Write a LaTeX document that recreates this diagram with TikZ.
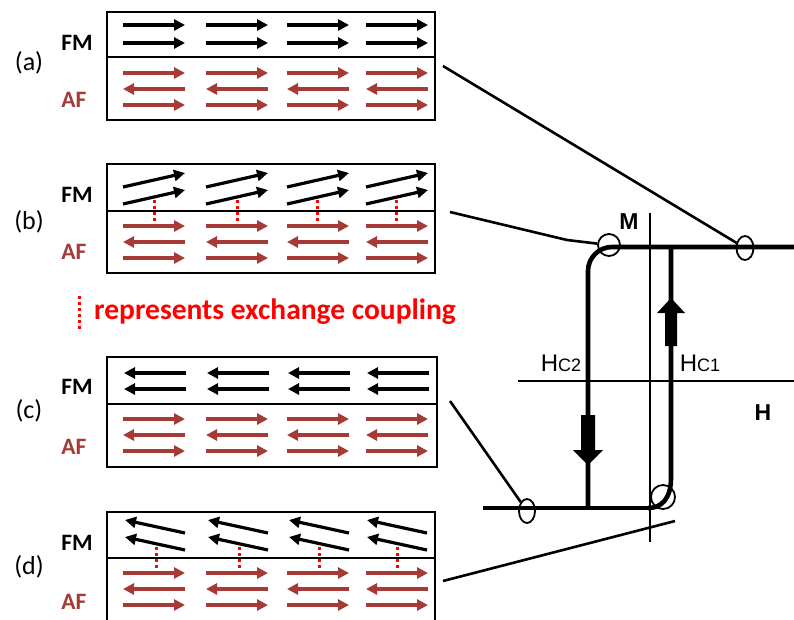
\documentclass[tikz,border=0pt]{standalone}
\usepackage{fontspec}
\setmainfont{Carlito}
\newfontfamily\arialfont{Liberation Sans}
\usetikzlibrary{arrows.meta,shapes.geometric}
\definecolor{afred}{RGB}{165,58,55}
\begin{document}
\begin{tikzpicture}[x=1pt,y=-1pt,
 spin/.style={line width=3.2pt,-{Triangle[length=11pt,width=11pt]}},
 fmspin/.style={spin,black},
 afspin/.style={spin,afred},
 panel/.style={line width=2.3pt},
 divider/.style={line width=1.8pt},
 coup/.style={red,line width=3pt,dash pattern=on 3pt off 3pt},
 hloop/.style={line width=4.6pt},
 haxis/.style={line width=2.4pt},
 lead/.style={line width=2.6pt},
 markc/.style={draw,ellipse,line width=1.8pt,inner sep=0pt},
 tag/.style={font=\fontsize{26}{28}\selectfont},
 fmlab/.style={font=\fontsize{23.5}{26}\selectfont\bfseries},
 aflab/.style={font=\fontsize{23.5}{26}\selectfont\bfseries,text=afred},
 axlab/.style={font=\arialfont\bfseries\fontsize{23}{26}\selectfont},
 hclab/.style={font=\arialfont\fontsize{24}{28}\selectfont,inner sep=0pt}
]
\useasboundingbox (0,0) rectangle (794,619);
\newcommand\afrows[1]{%
 \foreach \x in {123,206,287,366}{%
  \draw[afspin] (\x,#1) -- ++(62,0);
  \draw[afspin] (\x+62,#1+16) -- ++(-62,0);
  \draw[afspin] (\x,#1+32) -- ++(62,0);
 }}
% ---------- panel (a)
\draw[panel] (107,12) rectangle (435,120);
\draw[divider] (107,57) -- (435,57);
\foreach \x in {123,206,287,366}{
 \draw[fmspin] (\x,25) -- ++(62,0);
 \draw[fmspin] (\x,43) -- ++(62,0);
}
\afrows{73}
\node[tag] (ta) at (29,63) {(a)};
\node[fmlab] (fa) at (77,43) {FM};
\node[aflab] (aa) at (74,100) {AF};
% ---------- panel (b)
\draw[panel] (107,164) rectangle (435,273);
\draw[divider] (107,211) -- (435,211);
\foreach \x/\d in {123/31,206/31,287/30,366/30}{
 \draw[fmspin] (\x,187) -- ++(62,-14);
 \draw[fmspin] (\x,204) -- ++(62,-14);
 \draw[coup] (\x+\d,200) -- (\x+\d,226);
}
\afrows{226}
\node[tag] (tb) at (29,222) {(b)};
\node[fmlab] (fb) at (77,195) {FM};
\node[aflab] (ab) at (74,252) {AF};
% ---------- legend
\draw[coup] (79,296) -- (79,329);
\node[anchor=west,text=red,font=\fontsize{29.5}{32}\selectfont\bfseries,inner sep=0pt] (leg) at (94,312) {represents exchange coupling};
% ---------- panel (c)
\draw[panel] (107,357) rectangle (437,467);
\draw[divider] (107,404) -- (437,404);
\foreach \x in {124,207,288,367}{
 \draw[fmspin] (\x+62,373) -- ++(-62,0);
 \draw[fmspin] (\x+62,389) -- ++(-62,0);
}
\afrows{419}
\node[tag] (tc) at (29,411) {(c)};
\node[fmlab] (fc) at (77,387) {FM};
\node[aflab] (ac) at (74,447) {AF};
% ---------- panel (d)
\draw[panel] (107,625) -- (107,512) -- (435,512) -- (435,625);
\draw[divider] (107,558) -- (435,558);
\foreach \x/\d in {125/31,208/31,289/30,367/30}{
 \draw[fmspin] (\x+60,533) -- ++(-60,-13);
 \draw[fmspin] (\x+60,550) -- ++(-60,-13);
 \draw[coup] (\x+\d,547) -- (\x+\d,571);
}
\afrows{573}
\node[tag] (td) at (29,567) {(d)};
\node[fmlab] (fd) at (77,543) {FM};
\node[aflab] (ad) at (74,602) {AF};
% ---------- hysteresis loop
\draw[haxis] (650,213) -- (650,542);
\draw[haxis] (518,381) -- (794,381);
\draw[hloop,rounded corners=24pt] (794,247) -- (588,247) -- (588,508);
\draw[hloop] (483,508) -- (652,508);
\draw[hloop] (671,247) -- (671,478) .. controls (671,498) and (662,508) .. (648,508);
\fill (671,298) -- (685,313) -- (677,313) -- (677,346) -- (665,346) -- (665,313) -- (657,313) -- cycle;
\fill (588,465) -- (603,450) -- (595,450) -- (595,415) -- (581,415) -- (581,450) -- (573,450) -- cycle;
\node[markc,minimum width=22pt,minimum height=22pt] (c2) at (609,245) {};
\node[markc,minimum width=17pt,minimum height=24pt] (e1) at (745,248) {};
\node[markc,minimum width=16pt,minimum height=24pt] (e3) at (527,511) {};
\node[markc,minimum width=24pt,minimum height=24pt] (e4) at (663,497) {};
\node[axlab] (mlab) at (629,222) {M};
\node[axlab] (hlab) at (763,413) {H};
\node[hclab] (hc2) at (561,363) {H{\fontsize{18}{20}\selectfont C2}};
\node[hclab] (hc1) at (700,363) {H{\fontsize{18}{20}\selectfont C1}};
% ---------- leads from panels to loop
\coordinate (la) at (443,66);
\coordinate (lb) at (450,212);
\coordinate (lbk) at (567,240);
\coordinate (lc) at (450,401);
\coordinate (ld) at (443,581);
\coordinate (ldend) at (675,521);
\draw[lead] (la) -- (e1);
\draw[lead] (lb) -- (lbk) -- (c2);
\draw[lead] (lc) -- (e3);
\draw[lead] (ld) -- (ldend);
\end{tikzpicture}
\end{document}
